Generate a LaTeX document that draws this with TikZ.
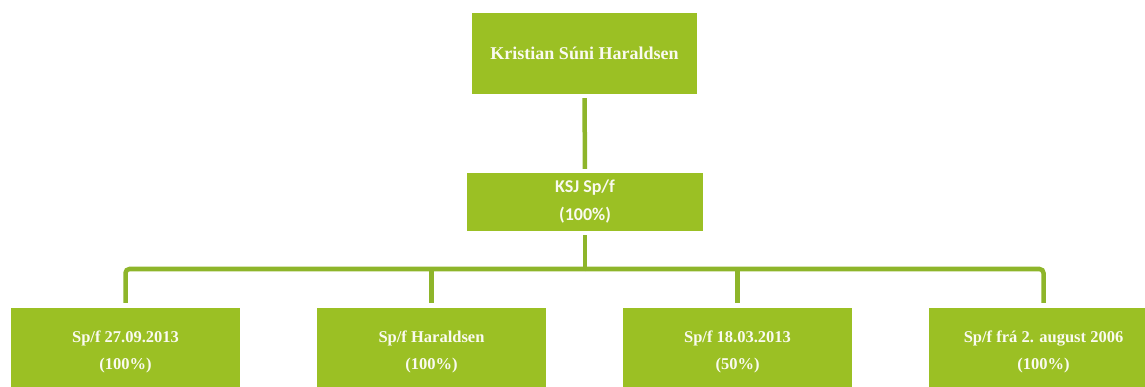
\documentclass[tikz,border=0pt]{standalone}
\usepackage{fontspec}
\setmainfont{Liberation Serif}
\newfontfamily\calib{Carlito}
\definecolor{boxgreen}{HTML}{9BC024}
\definecolor{linegreen}{HTML}{8EB52A}
\definecolor{txt}{HTML}{FAFAF0}
\begin{document}
\begin{tikzpicture}[x=1pt,y=-1pt,
  gbox/.style={fill=boxgreen, draw=none, text=txt, align=center, inner sep=0pt, font=\bfseries\fontsize{16.5}{27}\selectfont},
  conn/.style={draw=linegreen, line width=4.5pt},
]
\useasboundingbox (0,0) rectangle (1145,387);
\clip (0,0) rectangle (1145,387);
\node[gbox, minimum width=225pt, minimum height=81pt, font=\bfseries\fontsize{18}{20}\selectfont] (top) at (584.5,53.5) {Kristian Súni Haraldsen};
\node[gbox, minimum width=236pt, minimum height=58pt, font=\calib\bfseries\fontsize{18}{28}\selectfont] (mid) at (585,202) {KSJ Sp/f\\(100\%)};
\node[gbox, minimum width=229pt, minimum height=88pt] (c1) at (125.5,352) {Sp/f 27.09.2013\\(100\%)};
\node[gbox, minimum width=229pt, minimum height=88pt] (c2) at (431.5,352) {Sp/f Haraldsen\\(100\%)};
\node[gbox, minimum width=229pt, minimum height=88pt] (c3) at (737.5,352) {Sp/f 18.03.2013\\(50\%)};
\node[gbox, minimum width=229pt, minimum height=88pt] (c4) at (1043.5,352) {Sp/f frá 2. august 2006\\(100\%)};
\coordinate (bar) at (585,269);
\draw[conn, shorten <=4pt, shorten >=4pt] (top.south) -- (mid.north);
\draw[conn, shorten <=4pt] (mid.south) -- (bar);
\draw[conn, rounded corners=4pt, shorten >=5pt] (bar) -| (c1.north);
\draw[conn, shorten >=5pt] (bar) -| (c2.north);
\draw[conn, shorten >=5pt] (bar) -| (c3.north);
\draw[conn, rounded corners=4pt, shorten >=5pt] (bar) -| (c4.north);
\end{tikzpicture}
\end{document}
